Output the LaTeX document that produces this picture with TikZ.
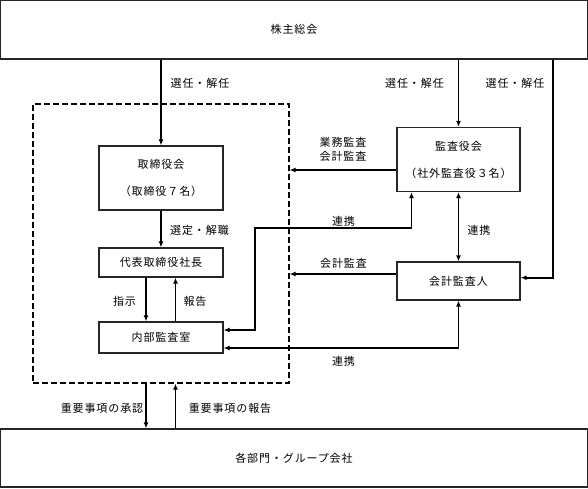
\documentclass[tikz,border=0pt]{standalone}
\usepackage{fontspec}
\setmainfont{Noto Sans CJK JP}[LetterSpace=8]
\usetikzlibrary{arrows.meta}

\begin{document}
\begin{tikzpicture}[x=1pt,y=-1pt,
    box/.style={draw=black!85,line width=1.2pt,inner sep=0pt,align=center,
        font=\fontsize{11}{14}\selectfont},
    lbl/.style={inner sep=0pt,align=center,font=\fontsize{11}{14}\selectfont},
    conn/.style={line width=1.6pt,-{Latex[length=6pt,width=5pt]}},
    dconn/.style={line width=1.6pt,{Latex[length=6pt,width=5pt]}-{Latex[length=6pt,width=5pt]}}]
        \useasboundingbox (0,0) rectangle (588,489);

        % Draw the company frame
            \node[draw,line width=1.2pt,dash pattern=on 6pt off 3pt,
                minimum width=256pt,minimum height=279pt] (kaisha) at (161,243.5) {};

        % Draw the boxes
            \node[box,minimum width=586.8pt,minimum height=58.4pt] (soukai) at (294,29.8) {株主総会};
            \node[box,minimum width=124pt,minimum height=64pt] (torishimari) at (161,178) {取締役会\\[13pt]（取締役７名）};
            \node[box,minimum width=124pt,minimum height=29pt] (daihyo) at (161,262.5) {代表取締役社長};
            \node[box,minimum width=124pt,minimum height=31pt] (naibu) at (161,337.5) {内部監査室};
            \node[box,minimum width=123pt,minimum height=64pt] (kansayaku) at (458.5,159.5) {監査役会\\[13pt]（社外監査役３名）};
            \node[box,minimum width=123pt,minimum height=38pt] (kaikei) at (458.5,281) {会計監査人};
            \node[box,minimum width=586.8pt,minimum height=58pt] (kakubumon) at (294,458) {各部門・グループ会社};

        % Draw the elections by the general meeting
            \draw[conn] (soukai.south -| torishimari.north) -- (torishimari.north);
            \node[lbl] (sennin1) at (200,83) {選任・解任};
            \draw[conn] (soukai.south -| kansayaku.north) -- (kansayaku.north);
            \node[lbl] (sennin2) at (414.5,83) {選任・解任};
            \coordinate (sennin3) at (553,0);
            \draw[conn] (soukai.south -| sennin3) |- ([yshift=3.3pt]kaikei.east);
            \node[lbl] (sennin3lbl) at (515,83) {選任・解任};

        % Draw the lines inside the company
            \draw[conn] (torishimari) -- (daihyo);
            \node[lbl] (sentei) at (199.5,230) {選定・解職};
            \draw[conn] ([xshift=-15pt]daihyo.south) -- ([xshift=-15pt]naibu.north);
            \node[lbl] (shiji) at (124.5,301) {指示};
            \draw[conn] ([xshift=14.5pt]naibu.north) -- ([xshift=14.5pt]daihyo.south);
            \node[lbl] (houkoku) at (195,301) {報告};

        % Draw the audits
            \coordinate (kansaout) at ([yshift=-10.5pt]kansayaku.west);
            \draw[conn] (kansaout) -- (kansaout -| kaisha.east);
            \node[lbl] (gyoumu) at (343,149) {業務監査\\会計監査};
            \coordinate (kaikeiout) at ([yshift=7pt]kaikei.west);
            \draw[conn] (kaikeiout) -- (kaikeiout -| kaisha.east);
            \node[lbl] (kaikeilbl) at (343.5,263) {会計監査};

        % Draw the cooperation lines
            \draw[dconn] (kansayaku) -- (kaikei);
            \node[lbl] (renkei1) at (479,230) {連携};
            \coordinate (renkeibend) at (255,228);
            \draw[dconn] ([yshift=7.5pt]naibu.east) -| (renkeibend) -| ([xshift=-47pt]kansayaku.south);
            \node[lbl] (renkei2) at (343.5,221) {連携};
            \draw[dconn] ([yshift=-10.5pt]naibu.east) -| (kaikei.south);
            \node[lbl] (renkei3) at (343.5,361) {連携};

        % Draw the lines to the departments
            \coordinate (shonin) at ([xshift=-15pt]kaisha.south);
            \draw[conn] (shonin) -- (shonin |- kakubumon.north);
            \node[lbl] (shoninlbl) at (102,408) {重要事項の承認};
            \coordinate (hokoku) at ([xshift=14.5pt]kaisha.south);
            \draw[conn] (hokoku |- kakubumon.north) -- (hokoku);
            \node[lbl] (hokokulbl) at (230,408) {重要事項の報告};
    \end{tikzpicture}
\end{document}
